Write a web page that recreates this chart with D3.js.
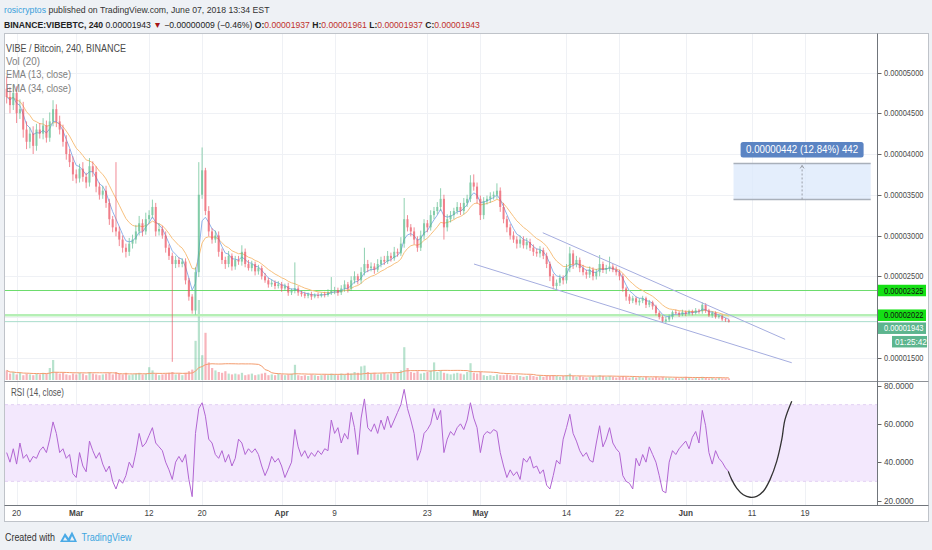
<!DOCTYPE html>
<html>
<head>
<meta charset="utf-8">
<script src="https://cdn.jsdelivr.net/npm/d3@7"></script>
<style>
  html, body { margin: 0; padding: 0; background: #eef1f5; }
  svg { display: block; }
  text { font-family: "Liberation Sans", Arial, sans-serif; }
</style>
</head>
<body>
<svg id="chart" width="932" height="550"></svg>
<script>
// ---- data (prices in satoshi, 1 = 0.00000001 BTC), one bar per 12h from Feb 18 12:00 ----
const firstOpen = 4800;
const closes = [
  4700,4600,4750,4500,4550,4300,4150,4250,4100,4300,
  4250,4350,4200,4400,4550,4400,4300,4150,4000,3900,
  3750,3700,3820,3720,3650,3850,3780,3600,3500,3550,
  3400,3200,3100,3050,2950,2850,2800,2900,2950,3050,
  3150,3050,3200,3250,3350,3050,3080,3000,2850,2750,
  2650,2700,2650,2680,2450,2250,2080,2550,3500,3800,
  3300,3050,2950,3000,2800,2700,2650,2750,2620,2700,
  2680,2800,2650,2600,2650,2560,2600,2500,2450,2400,
  2420,2380,2400,2350,2380,2300,2320,2350,2300,2280,
  2260,2280,2250,2270,2260,2280,2270,2300,2320,2330,
  2300,2350,2400,2350,2450,2500,2450,2550,2650,2600,
  2620,2580,2650,2700,2680,2750,2720,2800,2780,2900,
  3200,3100,3050,2950,2850,3000,3150,3100,3250,3300,
  3350,3450,3100,3200,3250,3300,3350,3300,3400,3450,
  3650,3600,3450,3250,3420,3450,3480,3500,3550,3350,
  3200,3100,3000,2950,2900,2950,2880,2920,2850,2800,
  2780,2820,2750,2650,2500,2380,2420,2480,2450,2600,
  2780,2650,2700,2600,2550,2520,2580,2500,2550,2650,
  2580,2600,2620,2580,2550,2500,2350,2250,2200,2230,
  2180,2200,2230,2150,2180,2130,2050,2000,1950,1970,
  2000,2060,2050,2030,2060,2040,2070,2050,2080,2070,
  2150,2080,2020,2050,2000,2010,1970,1960,1943
];
const upWick = [
  150,120,100,80,120,90,100,80,90,70,
  80,90,60,110,110,60,70,60,80,60,
  70,60,60,80,50,100,60,70,50,60,
  60,50,40,800,60,50,50,70,60,80,
  90,50,80,60,90,50,70,40,50,40,
  40,50,30,40,40,30,30,60,400,280,
  30,60,40,60,50,40,40,60,30,50,
  50,80,40,50,40,30,40,30,40,30,
  40,30,40,30,30,40,30,320,30,20,
  30,20,30,20,30,20,30,40,170,40,
  30,40,50,30,50,60,30,60,200,50,
  50,40,60,40,50,60,40,60,40,80,
  260,50,40,50,40,60,50,40,60,50,
  60,130,50,60,50,40,60,50,60,50,
  90,100,50,40,50,40,50,40,90,40,
  50,40,40,50,40,50,40,50,40,40,
  40,50,30,40,30,30,40,40,30,50,
  80,40,50,30,40,30,40,30,40,110,
  30,40,120,30,40,30,30,20,30,30,
  20,30,30,20,30,20,20,20,20,30,
  30,20,30,20,30,20,20,20,30,20,
  30,20,20,20,20,20,20,18,18
];
const dnWick = [
  80,100,60,120,70,100,90,80,100,60,
  60,70,60,50,60,70,60,60,70,60,
  80,60,50,60,70,50,60,70,60,50,
  60,70,60,60,80,60,70,50,60,50,
  50,60,40,50,40,60,50,40,60,50,
  1200,50,40,40,50,50,40,50,60,50,
  50,60,50,40,60,50,60,40,50,40,
  40,50,40,30,40,50,40,40,30,40,
  30,40,30,40,30,40,30,30,40,30,
  30,30,40,20,30,20,30,20,30,40,
  40,30,40,50,30,40,50,40,40,50,
  40,50,30,40,40,30,40,30,40,30,
  50,50,60,60,50,40,50,60,40,50,
  40,50,150,50,40,50,40,50,40,50,
  40,50,60,60,50,40,50,40,50,60,
  50,60,50,40,60,50,40,50,40,50,
  40,50,40,50,60,40,50,40,50,40,
  50,60,40,50,40,50,40,50,40,50,
  40,50,40,30,40,50,40,50,40,30,
  30,40,30,40,30,40,30,30,20,30,
  30,30,20,30,20,30,20,30,20,30,
  30,30,20,30,20,20,20,20,12
];
const volumes = [
  12,8,10,7,9,6,8,7,6,8,
  7,9,8,15,25,10,8,9,7,6,
  8,7,9,8,6,10,8,7,6,7,
  8,9,7,10,8,7,9,6,7,8,
  9,7,8,16,12,8,6,7,8,9,
  10,7,8,6,9,11,13,49,100,31,
  59,22,15,12,10,9,11,8,7,8,
  7,9,6,7,8,6,7,8,9,6,
  7,6,8,7,6,7,8,19,6,5,
  6,5,7,6,5,6,7,6,8,7,
  6,8,7,9,8,10,9,17,18,10,
  8,9,7,8,9,7,8,9,10,12,
  41,15,10,9,11,8,9,10,12,22,
  10,12,9,8,7,8,9,8,7,10,
  21,9,8,10,6,5,6,5,7,6,
  6,7,6,5,6,5,4,5,6,5,
  4,5,4,6,5,6,5,4,5,6,
  8,5,4,5,4,3,4,5,4,6,
  5,4,5,4,3,4,5,4,3,4,
  3,4,3,4,3,3,4,3,4,3,
  3,2,3,2,3,4,3,2,3,2,
  4,3,2,3,2,3,2,2,2
];
const rsiValues = [
  45,40,47,39,50,42,44,40,43,42,
  46,48,45,52,61,55,45,47,42,44,
  34,32,45,38,35,51,46,42,45,39,
  35,38,30,26,31,29,33,40,37,45,
  55,48,50,54,58,50,48,46,40,36,
  31,40,43,40,44,31,22,55,68,71,
  64,52,50,44,42,46,40,44,38,42,
  52,50,44,47,45,47,44,38,33,37,
  43,40,42,38,32,36,40,57,48,43,
  46,42,45,43,46,44,47,46,62,55,
  58,50,55,52,66,58,44,63,73,58,
  56,60,55,62,57,64,58,62,66,70,
  78,68,62,55,41,46,55,57,60,68,
  62,67,45,52,56,54,58,60,57,62,
  71,63,58,45,54,56,55,57,56,45,
  38,32,36,33,35,31,42,40,43,37,
  38,34,36,28,26,33,41,39,52,58,
  65,55,51,46,43,45,41,40,50,59,
  48,52,58,50,47,45,33,30,29,26,
  42,38,44,40,48,44,40,33,25,24,
  40,46,44,47,49,51,47,53,56,50,
  67,59,45,39,46,42,40,37,35
];

// time axis
const timeTicks = ["2018-02-20","2018-03-01","2018-03-12","2018-03-20","2018-04-01","2018-04-09",
  "2018-04-23","2018-05-01","2018-05-14","2018-05-22","2018-06-01","2018-06-11","2018-06-19"];
const timeLabels = ["20","Mar","12","20","Apr","9","23","May","14","22","Jun","11","19"];
const priceTicks = [1500, 2000, 2500, 3000, 3500, 4000, 4500, 5000];
const rsiTicks = [20, 40, 60, 80];

// drawings
const levelLines = [2325, 2022];
const lastPrice = 1943;
const countdown = "01:25:42";
const channelUpper = [["2018-05-10T10:00Z", 3034], ["2018-06-16T00:00Z", 1726]];
const channelLower = [["2018-04-30T01:00Z", 2650], ["2018-06-17T00:00Z", 1439]];
const measureDates = ["2018-06-08T05:00Z", "2018-06-28T22:00Z"];
const measurePrices = [3442, 3884];
const rsiSketch = [
  ["2018-06-07T10:00Z", 35.2], ["2018-06-07T22:30Z", 30.9], ["2018-06-08T16:30Z", 26.5],
  ["2018-06-09T16:30Z", 23.0], ["2018-06-10T17:00Z", 21.7], ["2018-06-11T17:00Z", 22.2],
  ["2018-06-12T17:00Z", 24.8], ["2018-06-13T17:15Z", 30.9], ["2018-06-14T17:30Z", 40.4],
  ["2018-06-15T11:45Z", 51.7], ["2018-06-15T23:30Z", 62.2], ["2018-06-17T00:00Z", 71.8]
];

const headerStats = ["0.00001943", "−0.00000009 (−0.46%)", "0.00001937", "0.00001961", "0.00001937", "0.00001943"];

// ---- setup ----
const START = Date.UTC(2018, 1, 18, 12);
const BAR = 12 * 3600 * 1000;
const bars = closes.map((c, i) => {
  const o = i ? closes[i - 1] : firstOpen;
  return { t: new Date(START + i * BAR), o, c,
    h: Math.max(o, c) + upWick[i], l: Math.min(o, c) - dnWick[i],
    v: volumes[i], rsi: rsiValues[i] };
});

const UP = "#53b987", DOWN = "#eb4d5c";
const axisX = 877.5;
const main = { top: 34, bottom: 381.5 };
const rsiPane = { top: 381.5, bottom: 505.5 };

const x = d3.scaleUtc()
  .domain([new Date("2018-02-20T00:00Z"), new Date("2018-06-19T00:00Z")])
  .range([16.6, 805]);
const y = d3.scaleLinear().domain([1500, 5000]).range([357.75, 72.5]);
const yVol = d3.scaleLinear().domain([0, 100]).range([380, 300]);
const yRsi = d3.scaleLinear().domain([20, 80]).range([500.5, 385.5]);

const fmt = v => (v * 1e-8).toFixed(8);
const fit = (sel, w) => sel.attr("textLength", w).attr("lengthAdjust", "spacingAndGlyphs");
// shrink font so that a multi-part line ends where it should
const fitFont = (sel, w) => {
  const n = sel.node().getComputedTextLength();
  sel.attr("font-size", +sel.attr("font-size") * w / n);
};

const svg = d3.select("#chart");
const defs = svg.append("defs");
defs.append("clipPath").attr("id", "clipMain").append("rect")
  .attr("x", 5).attr("y", main.top).attr("width", axisX - 5).attr("height", main.bottom - main.top);
defs.append("clipPath").attr("id", "clipRsi").append("rect")
  .attr("x", 5).attr("y", rsiPane.top).attr("width", axisX - 5).attr("height", rsiPane.bottom - rsiPane.top);

svg.append("rect").attr("width", 932).attr("height", 550).attr("fill", "#eef1f5");
svg.append("rect").attr("x", 4.5).attr("y", 33.5).attr("width", 924).attr("height", 488)
  .attr("fill", "#fff");

// grid
const grid = svg.append("g").attr("stroke", "#eff1f5").attr("stroke-width", 1);
timeTicks.forEach(d => {
  const gx = Math.round(x(new Date(d + "T00:00Z"))) + 0.5;
  grid.append("line").attr("x1", gx).attr("x2", gx).attr("y1", main.top).attr("y2", rsiPane.bottom);
});
priceTicks.forEach(p => {
  const gy = Math.round(y(p)) + 0.5;
  grid.append("line").attr("x1", 5).attr("x2", axisX).attr("y1", gy).attr("y2", gy);
});

const gm = svg.append("g").attr("clip-path", "url(#clipMain)");

// volume
gm.append("g").selectAll("rect").data(bars).join("rect")
  .attr("x", d => x(d.t) - 1)
  .attr("width", 2.2)
  .attr("y", d => yVol(d.v))
  .attr("height", d => yVol(0) - yVol(d.v))
  .attr("fill", d => d.c >= d.o ? UP : DOWN)
  .attr("opacity", 0.42);

const volMa = bars.map((d, i) => {
  const s = bars.slice(Math.max(0, i - 19), i + 1);
  return { t: d.t, v: d3.mean(s, e => e.v) };
});
gm.append("path").datum(volMa)
  .attr("fill", "none").attr("stroke", "#f39b6d").attr("stroke-width", 1)
  .attr("d", d3.line().x(d => x(d.t)).y(d => yVol(d.v)));

// horizontal levels
gm.append("line").attr("x1", 5).attr("x2", axisX).attr("y1", y(levelLines[0])).attr("y2", y(levelLines[0]))
  .attr("stroke", "#6ddc6d").attr("stroke-width", 1.2);
gm.append("line").attr("x1", 5).attr("x2", axisX).attr("y1", y(levelLines[1])).attr("y2", y(levelLines[1]))
  .attr("stroke", "#b5efb5").attr("stroke-width", 2.5);
gm.append("line").attr("x1", 5).attr("x2", axisX).attr("y1", y(lastPrice)).attr("y2", y(lastPrice))
  .attr("stroke", "#a8dccb").attr("stroke-width", 1);

// EMAs (each 12h bar stands for three 4h bars)
function ema(n) {
  const k = 1 - Math.pow(1 - 2 / (n + 1), 3);
  let e = bars[0].c;
  return bars.map(d => { e = e + k * (d.c - e); return { t: d.t, v: e }; });
}
const emaLine = d3.line().x(d => x(d.t)).y(d => y(d.v));
gm.append("path").datum(ema(34)).attr("fill", "none").attr("stroke", "#f7c07e").attr("stroke-width", 1).attr("d", emaLine);
gm.append("path").datum(ema(13)).attr("fill", "none").attr("stroke", "#8fb2ea").attr("stroke-width", 1).attr("d", emaLine);

// candles
const cg = gm.append("g").attr("opacity", 0.72);
cg.selectAll("line").data(bars).join("line")
  .attr("x1", d => x(d.t)).attr("x2", d => x(d.t))
  .attr("y1", d => y(d.h)).attr("y2", d => y(d.l))
  .attr("stroke", d => d.c >= d.o ? UP : DOWN).attr("stroke-width", 0.9);
cg.selectAll("rect").data(bars).join("rect")
  .attr("x", d => x(d.t) - 1)
  .attr("width", 2)
  .attr("y", d => y(Math.max(d.o, d.c)))
  .attr("height", d => Math.max(0.8, Math.abs(y(d.o) - y(d.c))))
  .attr("fill", d => d.c >= d.o ? UP : DOWN);

// channel
[channelUpper, channelLower].forEach(seg => {
  gm.append("line")
    .attr("x1", x(new Date(seg[0][0]))).attr("y1", y(seg[0][1]))
    .attr("x2", x(new Date(seg[1][0]))).attr("y2", y(seg[1][1]))
    .attr("stroke", "#a5addf").attr("stroke-width", 1);
});

// measure tool
const mx0 = x(new Date(measureDates[0])), mx1 = x(new Date(measureDates[1]));
const my0 = y(measurePrices[0]), my1 = y(measurePrices[1]);
gm.append("rect").attr("x", mx0).attr("y", my1).attr("width", mx1 - mx0).attr("height", my0 - my1)
  .attr("fill", "#dbe8fb").attr("opacity", 0.75);
[my0, my1].forEach(v => gm.append("line").attr("x1", mx0).attr("x2", mx1).attr("y1", v).attr("y2", v)
  .attr("stroke", "#a9b0ba").attr("stroke-width", 1.5));
const mcx = (mx0 + mx1) / 2;
gm.append("line").attr("x1", mcx).attr("x2", mcx).attr("y1", my1 + 2).attr("y2", my0)
  .attr("stroke", "#9a9fa8").attr("stroke-dasharray", "2,2");
gm.append("path").attr("d", `M${mcx - 2},${my1 + 5}L${mcx},${my1 + 2}L${mcx + 2},${my1 + 5}`)
  .attr("fill", "none").attr("stroke", "#9a9fa8");
const diff = measurePrices[1] - measurePrices[0];
const mText = `${fmt(diff)} (${(diff / measurePrices[0] * 100).toFixed(2)}%) ${diff}`;
svg.append("rect").attr("x", mcx - 61.5).attr("y", my1 - 21.5).attr("width", 123).attr("height", 15.5)
  .attr("rx", 2.5).attr("fill", "#5b84c3");
fit(svg.append("text").attr("x", mcx).attr("y", my1 - 10.5).attr("text-anchor", "middle")
  .attr("font-size", 10).attr("fill", "#fff").text(mText), 112);

// legend
const legend = [
  ["VIBE / Bitcoin, 240, BINANCE", "#4a4a4a", 120],
  ["Vol (20)", "#808080", 34],
  ["EMA (13, close)", "#808080", 65],
  ["EMA (34, close)", "#808080", 65]
];
legend.forEach((l, i) => {
  fit(svg.append("text").attr("x", 6).attr("y", 51.5 + i * 13.4).attr("font-size", 10)
    .attr("fill", l[1]).text(l[0]), l[2]);
});

// RSI pane
const gr = svg.append("g").attr("clip-path", "url(#clipRsi)");
gr.append("rect").attr("x", 5).attr("width", axisX - 5)
  .attr("y", yRsi(70)).attr("height", yRsi(30) - yRsi(70)).attr("fill", "#f3e8fd");
[70, 30].forEach(v => gr.append("line").attr("x1", 5).attr("x2", axisX)
  .attr("y1", yRsi(v)).attr("y2", yRsi(v)).attr("stroke", "#e2d1f3").attr("stroke-dasharray", "3,3"));
gr.append("path").datum(bars).attr("fill", "none").attr("stroke", "#b165d2").attr("stroke-width", 1)
  .attr("d", d3.line().x(d => x(d.t)).y(d => yRsi(d.rsi)));
gr.append("path").datum(rsiSketch).attr("fill", "none").attr("stroke", "#333").attr("stroke-width", 1.3)
  .attr("d", d3.line().curve(d3.curveCatmullRom).x(d => x(new Date(d[0]))).y(d => yRsi(d[1])));
fit(svg.append("text").attr("x", 11).attr("y", 395.5).attr("font-size", 10).attr("fill", "#555")
  .text("RSI (14, close)"), 53);

// price axis
const ax = svg.append("g");
priceTicks.forEach(p => {
  ax.append("line").attr("x1", axisX).attr("x2", axisX + 4).attr("y1", Math.round(y(p)) + 0.5)
    .attr("y2", Math.round(y(p)) + 0.5).attr("stroke", "#666");
  fit(ax.append("text").attr("x", 884).attr("y", y(p) + 3).attr("font-size", 8.2).attr("fill", "#4a4a4a")
    .text(fmt(p)), 39.5);
});
rsiTicks.forEach(v => {
  ax.append("line").attr("x1", axisX).attr("x2", axisX + 4).attr("y1", Math.round(yRsi(v)) + 0.5)
    .attr("y2", Math.round(yRsi(v)) + 0.5).attr("stroke", "#666");
  ax.append("text").attr("x", 884).attr("y", yRsi(v) + 3).attr("font-size", 8.2).attr("fill", "#4a4a4a")
    .text(v.toFixed(4));
});

// price labels
const lh = 11.5;
let prevBottom = -Infinity;
const tags = [
  { v: levelLines[0], bg: "#15e015", fg: "#111" },
  { v: levelLines[1], bg: "#15e015", fg: "#111" },
  { v: lastPrice, bg: "#5db58e", fg: "#fff" }
];
tags.forEach(t => {
  const cy = Math.max(y(t.v), prevBottom + lh / 2 + 1.5);
  prevBottom = cy + lh / 2;
  ax.append("rect").attr("x", 878).attr("y", cy - lh / 2).attr("width", 48).attr("height", lh).attr("fill", t.bg);
  fit(ax.append("text").attr("x", 884).attr("y", cy + 3).attr("font-size", 8.2).attr("fill", t.fg)
    .text(fmt(t.v)), 39.5);
});
const ccy = prevBottom + 2 + lh / 2;
ax.append("rect").attr("x", 892).attr("y", ccy - lh / 2).attr("width", 35).attr("height", lh).attr("fill", "#5db58e");
ax.append("text").attr("x", 895).attr("y", ccy + 3).attr("font-size", 8.2).attr("fill", "#fff").text(countdown);

// time axis
timeTicks.forEach((d, i) => {
  const isMonth = isNaN(+timeLabels[i]);
  svg.append("text").attr("x", x(new Date(d + "T00:00Z"))).attr("y", 516)
    .attr("text-anchor", "middle").attr("font-size", 8.2)
    .attr("font-weight", isMonth ? "bold" : "normal").attr("fill", "#444").text(timeLabels[i]);
});

// frame lines
const fr = svg.append("g").attr("fill", "none");
fr.append("rect").attr("x", 4.5).attr("y", 33.5).attr("width", 924).attr("height", 488).attr("stroke", "#bfc3c9");
fr.append("line").attr("x1", 4.5).attr("x2", 928.5).attr("y1", main.bottom).attr("y2", main.bottom).attr("stroke", "#8d9197");
fr.append("line").attr("x1", 4.5).attr("x2", 928.5).attr("y1", rsiPane.bottom).attr("y2", rsiPane.bottom).attr("stroke", "#70757b");
fr.append("line").attr("x1", axisX).attr("x2", axisX).attr("y1", 33.5).attr("y2", rsiPane.bottom).attr("stroke", "#70757b");

// header
const h1 = svg.append("text").attr("x", 4).attr("y", 12.5).attr("font-size", 10);
h1.append("tspan").attr("fill", "#3a9fdb").text("rosicryptos");
h1.append("tspan").attr("fill", "#333").text(" published on TradingView.com, June 07, 2018 13:34 EST");
fitFont(h1, 266);

const red = "#c0302b";
const parts = [
  ["BINANCE:VIBEBTC, 240", "#222", true], [" " + headerStats[0] + " ", "#222", false],
  ["▼", "#a51616", false], [" " + headerStats[1] + " ", "#222", false],
  ["O:", "#222", true], [headerStats[2], red, false],
  [" H:", "#222", true], [headerStats[3], red, false],
  [" L:", "#222", true], [headerStats[4], red, false],
  [" C:", "#222", true], [headerStats[5], red, false]
];
const h2 = svg.append("text").attr("x", 4).attr("y", 27.5).attr("font-size", 10);
parts.forEach(p => h2.append("tspan").attr("fill", p[1]).attr("font-weight", p[2] ? "bold" : "normal").text(p[0]));
fitFont(h2, 476);

// footer
fit(svg.append("text").attr("x", 5).attr("y", 540.5).attr("font-size", 10).attr("fill", "#333")
  .text("Created with"), 50);
svg.append("path").attr("d", "M60,542 L65,533 L68.5,538 L72,531.5 L77,542 Z").attr("fill", "#4aaae6");
svg.append("path").attr("d", "M63,540.5 L65,537 L67.5,540.5 Z M70,540.5 L72,536 L74.5,540.5 Z").attr("fill", "#eef1f5");
fit(svg.append("text").attr("x", 81.5).attr("y", 540.5).attr("font-size", 10).attr("fill", "#3ea6e0")
  .text("TradingView"), 50);
</script>
</body>
</html>
